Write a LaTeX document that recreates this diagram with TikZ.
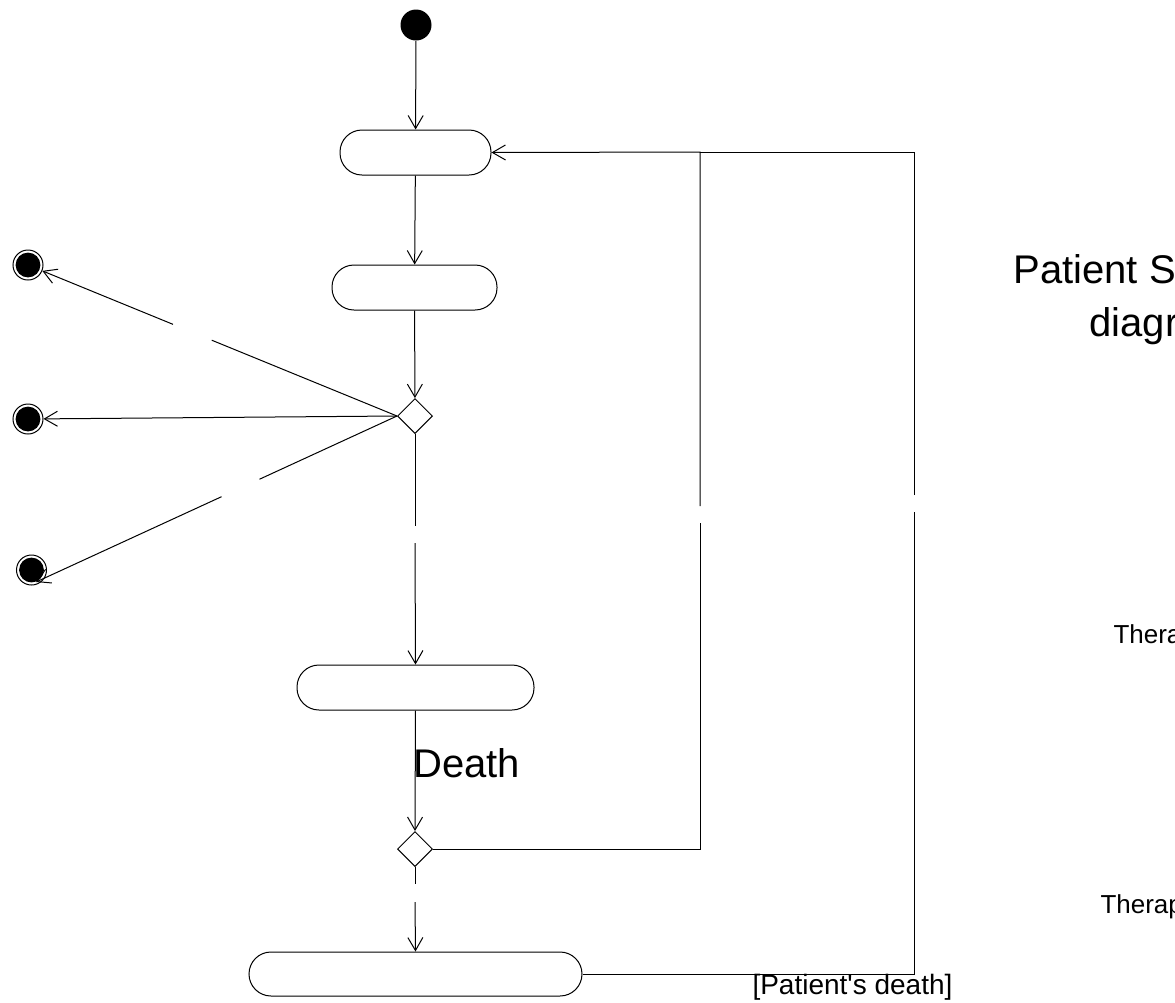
\documentclass[tikz,border=0pt]{standalone}
\usepackage{fontspec}
\setmainfont{Liberation Sans}
\usetikzlibrary{arrows.meta,shapes.geometric,calc}
\begin{document}
\begin{tikzpicture}[x=0.5pt,y=-0.5pt,line width=0.5pt,
  arr/.style={-{Straight Barb[length=6.5pt,width=7.5pt,line width=0.5pt]}},
  activity/.style={draw,rectangle,rounded corners=11pt,minimum height=22.5pt,inner sep=0pt,fill=white},
  decision/.style={draw,diamond,minimum width=17.5pt,minimum height=17.5pt,inner sep=0pt,fill=white},
  initial/.style={circle,fill=black,minimum size=15.5pt,inner sep=0pt},
  final/.style={circle,draw,fill=white,minimum size=15pt,inner sep=0pt},
  lbl/.style={inner sep=0pt,anchor=base west}
]
\useasboundingbox (0,0) rectangle (1175,1003);
\clip (0,0) rectangle (1175,1003);

% states
\node[initial] (start) at (416,25) {};
\node[activity,minimum width=75.5pt] (b1) at (415.5,152.5) {};
\node[activity,minimum width=82.5pt] (b2) at (414.5,287.5) {};
\node[decision] (d1) at (415,416) {};
\node[activity,minimum width=118.5pt] (b3) at (415.5,687.5) {};
\node[decision] (d2) at (415,849) {};
\node[activity,minimum width=166.5pt,minimum height=22pt] (b4) at (415.5,974) {};

% final states: ring with a black disc inside
\node[final] (f1) at (28,265) {};
\node[final] (f2) at (28,419) {};
\node[final] (f3) at (31.5,570) {};
\foreach \f in {f1,f2,f3} \fill (\f.center) circle (6.2pt);
\coordinate (f3tip) at (36,582);

% break points of the interrupted connectors
\coordinate (v1a) at (415,526);
\coordinate (v1b) at (415,543);
\coordinate (v2a) at (415,884);
\coordinate (v2b) at (415,902);
\coordinate (l1a) at (700,523);
\coordinate (l1b) at (700,506);
\coordinate (l2a) at (914,512);
\coordinate (l2b) at (914,495);
\coordinate (c1) at (700,849);
\coordinate (c2) at (700,152);
\coordinate (c3) at (914,974);
\coordinate (c4) at (914,152);

% main flow
\draw[arr] (start) -- (b1);
\draw[arr] (b1) -- (b2);
\draw[arr] (b2) -- (d1);
\draw (d1.south) -- (v1a);
\draw[arr] (v1b) -- (b3.north);
\draw[arr] (b3.south) -- (d2.north);
\draw (d2.south) -- (v2a);
\draw[arr] (v2b) -- (b4.north);

% branches to the final states
\draw (d1.west) -- ($(d1.west)!0.502!(f1)$);
\draw[arr] ($(d1.west)!0.607!(f1)$) -- (f1);
\draw[arr] (d1.west) -- (f2);
\draw (d1.west) -- ($(d1.west)!0.381!(f3tip)$);
\draw[arr] ($(d1.west)!0.486!(f3tip)$) -- (f3tip);

% loops back to the first activity
\draw (d2.east) -- (c1) -- (l1a);
\draw[arr] (l1b) -- (c2) -- (b1.east);
\draw (b4.east) -- (c3) -- (l2a);
\draw (l2b) -- (c4) -- (c2);

% texts
\node[lbl,font=\fontsize{20pt}{24pt}\selectfont] (tdeath) at (413,777) {Death};
\node[lbl,font=\fontsize{14pt}{16pt}\selectfont] (tpd) at (752,994) {[Patient\textquotesingle s death]};
\node[lbl,font=\fontsize{20pt}{24pt}\selectfont] (title1) at (1013,283) {Patient S};
\node[lbl,font=\fontsize{20pt}{24pt}\selectfont] (title2) at (1089,336) {diagr};
\node[lbl,font=\fontsize{13pt}{16pt}\selectfont] (th1) at (1113,643) {Thera};
\node[lbl,font=\fontsize{13pt}{16pt}\selectfont] (th2) at (1100,913) {Therap};
\end{tikzpicture}
\end{document}
